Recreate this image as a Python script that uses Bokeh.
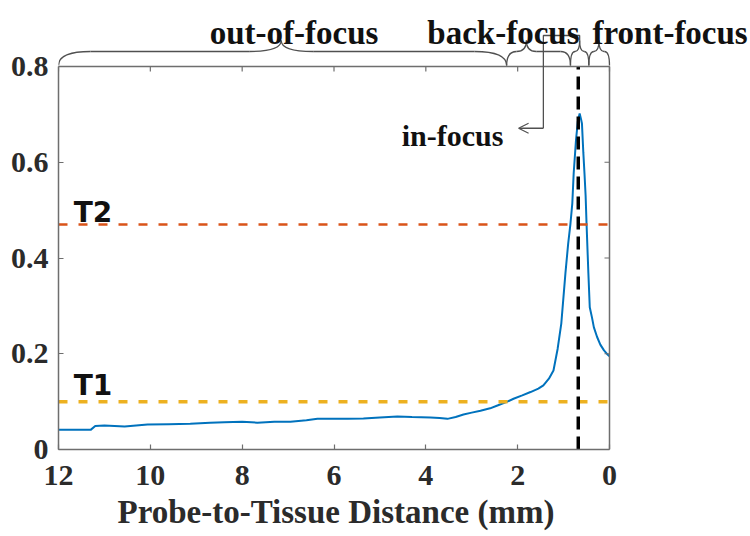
from bokeh.plotting import figure
from bokeh.models import Range1d, FixedTicker, NumeralTickFormatter, Arrow, OpenHead, Title
from bokeh.embed import file_html
from bokeh.resources import INLINE
from bokeh.core.properties import value

# ---------------- data ----------------
distance_mm = [12.0, 11.3, 11.2, 11.0, 10.56, 10.06, 9.6, 9.13, 8.7, 8.39, 8.0, 7.67, 7.3, 6.95,
               6.6, 6.36, 6.0, 5.7, 5.36, 5.0, 4.62, 4.3, 3.9, 3.7, 3.53, 3.35, 3.18, 3.0, 2.81,
               2.6, 2.44, 2.25, 2.09, 1.9, 1.72, 1.55, 1.44, 1.32, 1.22, 1.13, 1.05, 0.96, 0.9,
               0.85, 0.81, 0.78, 0.73, 0.69, 0.65, 0.62, 0.60, 0.57, 0.545, 0.52, 0.50, 0.46,
               0.43, 0.38, 0.34, 0.27, 0.20, 0.12, 0.05, 0.0]
signal = [0.041, 0.041, 0.049, 0.050, 0.048, 0.052, 0.053, 0.054, 0.056, 0.057, 0.058, 0.056,
          0.058, 0.058, 0.061, 0.064, 0.064, 0.064, 0.065, 0.067, 0.069, 0.068, 0.067, 0.066,
          0.064, 0.068, 0.073, 0.077, 0.081, 0.086, 0.092, 0.099, 0.106, 0.113, 0.120, 0.127,
          0.134, 0.148, 0.165, 0.21, 0.263, 0.368, 0.43, 0.472, 0.514, 0.577, 0.646, 0.685,
          0.702, 0.69, 0.681, 0.62, 0.577, 0.53, 0.472, 0.368, 0.297, 0.275, 0.255, 0.235,
          0.219, 0.207, 0.199, 0.195]

x_ticks = [0, 2, 4, 6, 8, 10, 12]
y_ticks = [0, 0.2, 0.4, 0.6, 0.8]
x_max, y_max = 12, 0.8
x_label = "Probe-to-Tissue Distance (mm)"

threshold_names = ["T1", "T2"]
threshold_values = [0.10, 0.47]
threshold_colors = ["#EDB120", "#D95319"]
threshold_widths = [3.5, 2.5]
focus_position_mm = 0.68

region_names = ["out-of-focus", "back-focus", "in-focus", "front-focus"]
region_start_mm = [12.0, 2.24, 0.85, 0.45]
region_end_mm = [2.24, 0.85, 0.45, 0.0]
region_tip_mm = [7.15, 1.81, 0.65, 0.23]
top_label_names = ["out-of-focus", "back-focus", "front-focus"]
top_label_x_mm = [6.87, 2.31, -1.32]

# ---------------- layout constants ----------------
W, H = 750, 536
FRAME_L, AXIS_R = 58, 609
FRAME_TOP_PX, AXIS_TOP_PX, AXIS_BOTTOM_PX = 2, 66, 449
PX_PER_MM = (AXIS_R - FRAME_L) / x_max
PX_PER_UNIT = (AXIS_BOTTOM_PX - AXIS_TOP_PX) / y_max


def above(px):
    """value of a point px pixels above the top of the axes box"""
    return y_max + px / PX_PER_UNIT


TXT = "#2b2b2b"
AX = "#6e6e6e"
INK = "#505050"
TICK = 5

p = figure(width=W, height=H, output_backend="svg", toolbar_location=None,
           x_range=Range1d(x_max, -(W - AXIS_R) / PX_PER_MM),
           y_range=Range1d(0, above(AXIS_TOP_PX - FRAME_TOP_PX)),
           min_border_left=FRAME_L, min_border_right=0,
           min_border_top=FRAME_TOP_PX, min_border_bottom=H - AXIS_BOTTOM_PX)
p.xgrid.visible = False
p.ygrid.visible = False
p.outline_line_color = None

# curve
p.line(distance_mm, signal, line_color="#0072BD", line_width=2)

# thresholds
for v, c, w in zip(threshold_values, threshold_colors, threshold_widths):
    p.segment(x0=[x_max], y0=[v], x1=[0], y1=[v], line_color=c, line_width=w, line_dash="9 11")

# focus position
p.segment(x0=[focus_position_mm], y0=[0], x1=[focus_position_mm], y1=[y_max],
          line_color="black", line_width=3.5, line_dash="13 7")

# top and right sides of the axes box, with their inward ticks
p.segment(x0=[x_max, 0], y0=[y_max, 0], x1=[0, 0], y1=[y_max, y_max],
          line_color=AX, line_width=1.5)
p.segment(x0=x_ticks, y0=[y_max] * len(x_ticks), x1=x_ticks,
          y1=[y_max - TICK / PX_PER_UNIT] * len(x_ticks), line_color=AX, line_width=1.2)
p.segment(x0=[0] * len(y_ticks), y0=y_ticks, x1=[TICK / PX_PER_MM] * len(y_ticks),
          y1=y_ticks, line_color=AX, line_width=1.2)

# braces
y_end, y_body, y_tip = above(1), above(15), above(26)
q = dict(x0=[], y0=[], x1=[], y1=[], cx=[], cy=[])
s = dict(x0=[], y0=[], x1=[], y1=[])
for a, b, t in zip(region_start_mm, region_end_mm, region_tip_mm):
    left_px = (a - t) * PX_PER_MM
    right_px = (t - b) * PX_PER_MM
    rc = min(32.0, 0.5 * min(left_px, right_px)) / PX_PER_MM
    for (x0, y0, x1, y1, cx, cy) in [(a, y_end, a - rc, y_body, a, y_body),
                                     (t + rc, y_body, t, y_tip, t, y_body),
                                     (t, y_tip, t - rc, y_body, t, y_body),
                                     (b + rc, y_body, b, y_end, b, y_body)]:
        q["x0"].append(x0); q["y0"].append(y0); q["x1"].append(x1); q["y1"].append(y1)
        q["cx"].append(cx); q["cy"].append(cy)
    s["x0"] += [a - rc, t - rc]; s["y0"] += [y_body, y_body]
    s["x1"] += [t + rc, b + rc]; s["y1"] += [y_body, y_body]

p.quadratic(x0="x0", y0="y0", x1="x1", y1="y1", cx="cx", cy="cy", source=q,
            line_color=INK, line_width=1.3)
p.segment(x0="x0", y0="y0", x1="x1", y1="y1", source=s, line_color=INK, line_width=1.3)

# bracket from the in-focus brace to the in-focus label
bracket_x_mm = 1.44
arrow_y = 0.671
p.line([bracket_x_mm, bracket_x_mm, region_tip_mm[2], region_tip_mm[2]],
       [arrow_y, above(31), above(31), y_tip], line_color=INK, line_width=1.3)
p.add_layout(Arrow(end=OpenHead(size=10, line_width=1.2, line_color=INK),
                   x_start=bracket_x_mm, y_start=arrow_y, x_end=1.98, y_end=arrow_y,
                   line_color=INK, line_width=1.3))
p.text(x=[2.31], y=[0.656], text=["in-focus"], text_align="right", text_baseline="alphabetic",
       text_font=value("Liberation Serif"), text_font_style="bold", text_font_size="30px",
       text_color="#111111")

# region labels on top
p.text(x=top_label_x_mm, y=[above(34)] * 3, text=top_label_names, text_align="center",
       text_baseline="alphabetic", text_font=value("Liberation Serif"),
       text_font_style="bold", text_font_size="33px", text_color="#111111")

# threshold labels
p.text(x=[11.67, 11.67], y=[0.134, 0.495], text=threshold_names, text_align="left",
       text_baseline="alphabetic", text_font=value("DejaVu Sans"), text_font_style="bold",
       text_font_size="28px", text_color="#111111")

# axes
xa = p.xaxis[0]
xa.ticker = FixedTicker(ticks=x_ticks)
xa.bounds = (0, x_max)
xa.major_label_standoff = 16

ya = p.yaxis[0]
ya.ticker = FixedTicker(ticks=y_ticks)
ya.formatter = NumeralTickFormatter(format="0.[0]")
ya.major_label_standoff = 10
ya.bounds = (0, y_max)

for ax in [xa, ya]:
    ax.axis_line_color = AX
    ax.axis_line_width = 1.5
    ax.major_tick_line_color = AX
    ax.major_tick_line_width = 1.2
    ax.major_tick_in = TICK
    ax.major_tick_out = 0
    ax.minor_tick_line_color = None
    ax.major_label_text_font = "Liberation Serif"
    ax.major_label_text_font_style = "bold"
    ax.major_label_text_font_size = "30px"
    ax.major_label_text_color = TXT

# x axis title, placed under the axis box (the frame extends further right)
p.add_layout(Title(text=x_label, align="left", offset=59, standoff=9,
                   text_font="Liberation Serif", text_font_style="bold",
                   text_font_size="33px", text_color=TXT), "below")

open("out.html", "w").write(file_html(p, INLINE))
